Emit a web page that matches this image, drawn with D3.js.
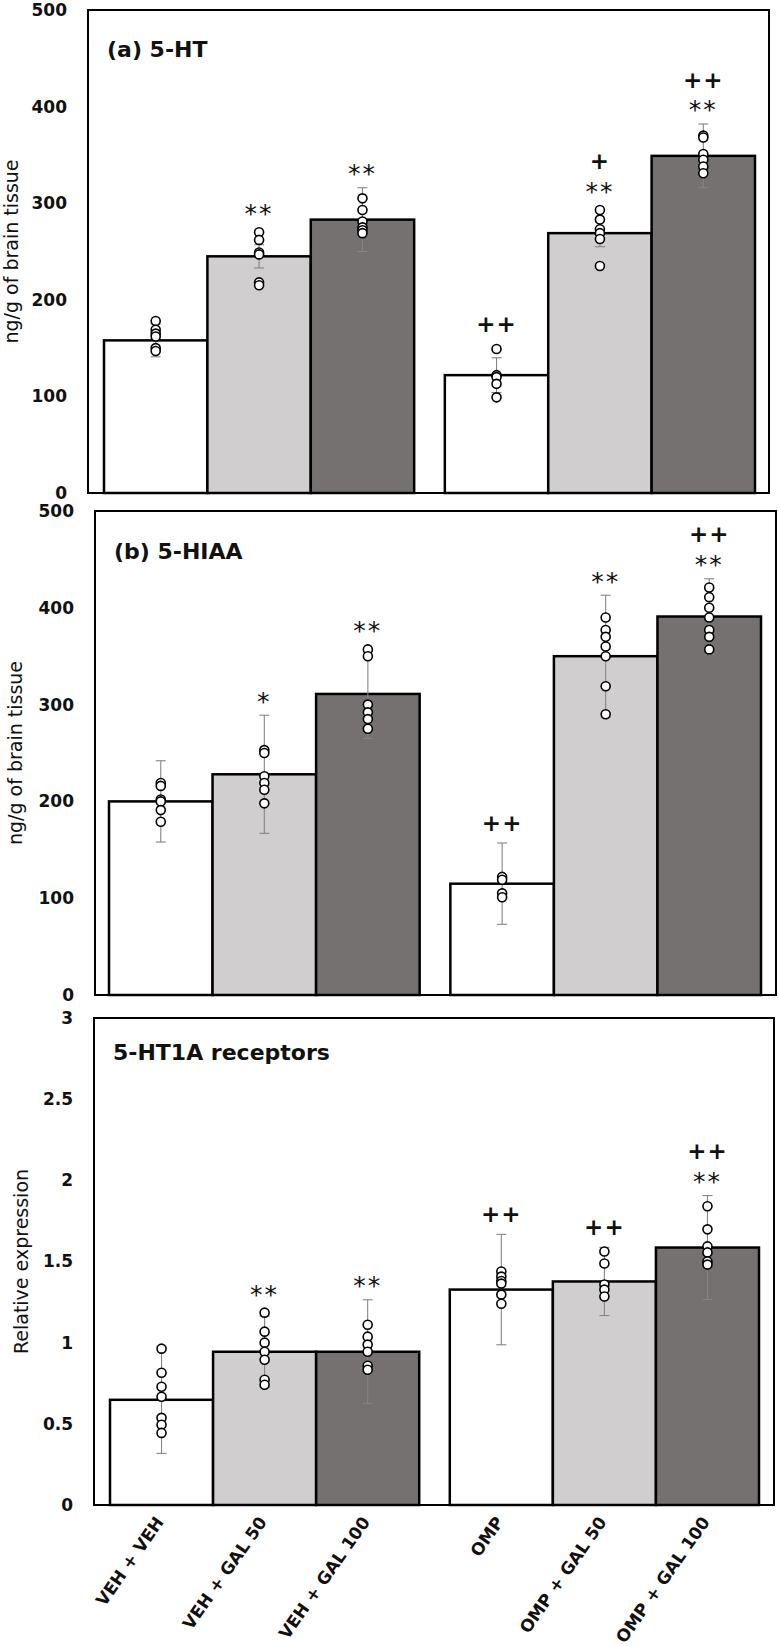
<!DOCTYPE html>
<html>
<head>
<meta charset="utf-8">
<script src="https://cdn.jsdelivr.net/npm/d3@7"></script>
<style>
  body { margin: 0; background: #fff; }
</style>
</head>
<body>
<svg id="chart" width="779" height="1646"></svg>
<script>
// groups and treatments
var groups = ["VEH", "OMP"];
var treatments = ["VEH", "GAL 50", "GAL 100"];
var xLabels = ["VEH + VEH", "VEH + GAL 50", "VEH + GAL 100", "OMP", "OMP + GAL 50", "OMP + GAL 100"];

// (a) 5-HT, ng/g of brain tissue
var htMean = [158, 245, 283, 122, 269, 349];
var htSd = [17, 12, 33, 18, 14, 33];
var htDots = [
  [178, 169, 165, 162, 150, 147],
  [270, 262, 249, 247, 218, 215],
  [305, 293, 281, 275, 272, 269],
  [149, 122, 120, 113, 99],
  [293, 283, 273, 269, 263, 235],
  [370, 368, 351, 345, 338, 331]
];
var htSig = ["", "**", "**", "++", "**|+", "**|++"];

// (b) 5-HIAA, ng/g of brain tissue
var hiaaMean = [200, 228, 311, 115, 350, 391];
var hiaaSd = [42, 61, 46, 42, 63, 39];
var hiaaDots = [
  [219, 216, 202, 200, 191, 179],
  [253, 250, 226, 219, 212, 198],
  [357, 350, 300, 292, 285, 275],
  [122, 119, 105, 101],
  [390, 377, 370, 360, 350, 319, 290],
  [421, 411, 400, 390, 377, 370, 357]
];
var hiaaSig = ["", "*", "**", "++", "**", "**|++"];

// 5-HT1A receptors, relative expression
var recMean = [0.648, 0.944, 0.944, 1.327, 1.377, 1.586];
var recSd = [0.33, 0.22, 0.32, 0.34, 0.21, 0.32];
var recDots = [
  [0.963, 0.815, 0.728, 0.667, 0.537, 0.494, 0.444],
  [1.185, 1.068, 1.0, 0.944, 0.895, 0.772, 0.741],
  [1.11, 1.037, 0.988, 0.944, 0.858, 0.833],
  [1.438, 1.407, 1.38, 1.364, 1.296, 1.24],
  [1.562, 1.488, 1.358, 1.327, 1.284],
  [1.84, 1.698, 1.593, 1.556, 1.5, 1.481]
];
var recSig = ["", "**", "**", "++", "++", "**|++"];

var ngTicks = [0, 100, 200, 300, 400, 500];
var relTicks = [0, 0.5, 1, 1.5, 2, 2.5, 3];

var fills = ["#ffffff", "#d0cecf", "#757170"];

// layout of each panel
var panels = [
  { title: "(a) 5-HT", yTitle: "ng/g of brain tissue", mean: htMean, sd: htSd, dots: htDots, sig: htSig,
    ticks: ngTicks, left: 88, right: 769, top: 10, bottom: 493, barsL: 104, barsR: 755, titleY: 57, yTitleX: 18, xAxis: false },
  { title: "(b) 5-HIAA", yTitle: "ng/g of brain tissue", mean: hiaaMean, sd: hiaaSd, dots: hiaaDots, sig: hiaaSig,
    ticks: ngTicks, left: 95, right: 776, top: 511, bottom: 995, barsL: 109, barsR: 761, titleY: 559, yTitleX: 22, xAxis: false },
  { title: "5-HT1A receptors", yTitle: "Relative expression", mean: recMean, sd: recSd, dots: recDots, sig: recSig,
    ticks: relTicks, left: 94, right: 774, top: 1018, bottom: 1505, barsL: 110, barsR: 759, titleY: 1060, yTitleX: 28, xAxis: true }
];

var svg = d3.select("#chart");

panels.forEach(function(p) {
  var g = svg.append("g");

  var y = d3.scaleLinear()
    .domain([0, p.ticks[p.ticks.length - 1]])
    .range([p.bottom, p.top]);

  var xGroup = d3.scaleBand()
    .domain(groups)
    .range([p.barsL, p.barsR])
    .paddingInner(0.09);

  var xInner = d3.scaleBand()
    .domain(treatments)
    .range([0, xGroup.bandwidth()]);

  var rows = p.mean.map(function(m, i) {
    var grp = groups[Math.floor(i / 3)], tr = treatments[i % 3];
    return { i: i, mean: m, sd: p.sd[i], dots: p.dots[i], sig: p.sig[i],
             x: xGroup(grp) + xInner(tr), w: xInner.bandwidth(), t: i % 3 };
  });

  // plot frame
  g.append("rect")
    .attr("x", p.left).attr("y", p.top)
    .attr("width", p.right - p.left).attr("height", p.bottom - p.top)
    .attr("fill", "#fff").attr("stroke", "#000").attr("stroke-width", 2);

  // bars
  g.selectAll(".bar").data(rows).enter().append("rect")
    .attr("x", function(d) { return d.x; })
    .attr("y", function(d) { return y(d.mean); })
    .attr("width", function(d) { return d.w; })
    .attr("height", function(d) { return y(0) - y(d.mean); })
    .attr("fill", function(d) { return fills[d.t]; })
    .attr("stroke", "#000").attr("stroke-width", 2.5);

  // error bars
  var err = g.selectAll(".err").data(rows).enter().append("g")
    .attr("stroke", "#858585").attr("stroke-width", 1.1);
  err.append("line")
    .attr("x1", function(d) { return d.x + d.w / 2; })
    .attr("x2", function(d) { return d.x + d.w / 2; })
    .attr("y1", function(d) { return y(d.mean - d.sd); })
    .attr("y2", function(d) { return y(d.mean + d.sd); });
  [-1, 1].forEach(function(s) {
    err.append("line")
      .attr("x1", function(d) { return d.x + d.w / 2 - 5; })
      .attr("x2", function(d) { return d.x + d.w / 2 + 5; })
      .attr("y1", function(d) { return y(d.mean + s * d.sd); })
      .attr("y2", function(d) { return y(d.mean + s * d.sd); });
  });

  // individual points
  rows.forEach(function(d) {
    g.selectAll(null).data(d.dots).enter().append("circle")
      .attr("cx", d.x + d.w / 2)
      .attr("cy", function(v) { return y(v); })
      .attr("r", 4.5)
      .attr("fill", "#fff").attr("stroke", "#000").attr("stroke-width", 1.6);
  });

  // significance marks, stacked from bottom up
  rows.forEach(function(d) {
    if (!d.sig) return;
    var topY = Math.min(y(d.mean + d.sd), y(d3.max(d.dots)) - 4.5);
    d.sig.split("|").forEach(function(s, j) {
      var cy = topY - 20 - j * 24;
      var star = s.indexOf("*") >= 0;
      var fs = star ? 25 : 23;
      g.append("text")
        .attr("x", d.x + d.w / 2)
        .attr("y", cy + (star ? 0.58 : 0.33) * fs)
        .attr("text-anchor", "middle")
        .attr("font-family", "DejaVu Sans")
        .attr("font-weight", star ? "normal" : "bold")
        .attr("font-size", fs)
        .attr("letter-spacing", star ? 2 : 1)
        .attr("fill", "#111")
        .text(s);
    });
  });

  // y axis labels
  var yAxis = d3.axisLeft(y)
    .tickValues(p.ticks)
    .tickSize(0)
    .tickPadding(21)
    .tickFormat(d3.format(""));
  var ax = g.append("g")
    .attr("transform", "translate(" + p.left + ",0)")
    .call(yAxis);
  ax.select(".domain").remove();
  ax.selectAll("text")
    .attr("font-family", "DejaVu Sans")
    .attr("font-weight", "bold")
    .attr("font-size", 17)
    .attr("fill", "#111");

  // y axis title
  g.append("text")
    .attr("transform", "translate(" + p.yTitleX + "," + ((p.top + p.bottom) / 2) + ") rotate(-90)")
    .attr("text-anchor", "middle")
    .attr("font-family", "DejaVu Sans")
    .attr("font-size", 19)
    .attr("fill", "#111")
    .text(p.yTitle);

  // panel title
  g.append("text")
    .attr("x", p.left + 19).attr("y", p.titleY)
    .attr("font-family", "DejaVu Sans")
    .attr("font-weight", "bold")
    .attr("font-size", 22)
    .attr("fill", "#111")
    .text(p.title);

  // x labels under the last panel
  if (p.xAxis) {
    g.selectAll(".xl").data(rows).enter().append("text")
      .attr("transform", function(d) {
        return "translate(" + (d.x + d.w / 2 + 3) + "," + (p.bottom + 17) + ") rotate(-55)";
      })
      .attr("text-anchor", "end")
      .attr("font-family", "DejaVu Sans")
      .attr("font-weight", "bold")
      .attr("font-size", 17)
      .attr("fill", "#111")
      .text(function(d) { return xLabels[d.i]; });
  }
});
</script>
</body>
</html>
